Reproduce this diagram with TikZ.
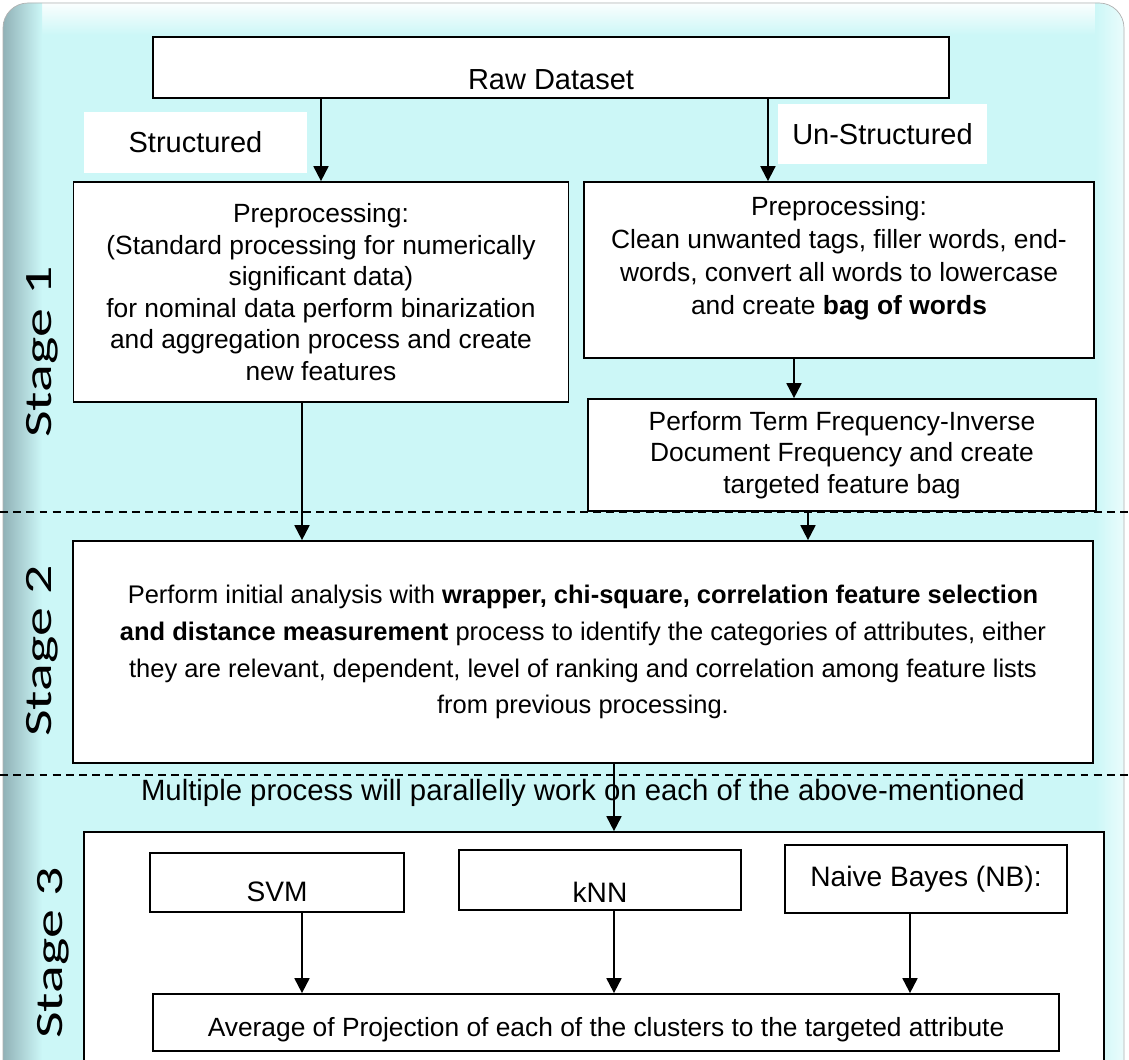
\documentclass[tikz,border=0pt]{standalone}
\usepackage{fontspec}
\setmainfont{Liberation Sans}
\newfontfamily\stagefont{Carlito}
\usetikzlibrary{arrows.meta,positioning}
\definecolor{panelcyan}{RGB}{204,247,247}
\definecolor{edgeshade}{RGB}{140,172,178}

\begin{document}
\begin{tikzpicture}[x=0.02cm,y=-0.02cm]
  \tikzstyle{box} = [draw, line width=1pt, fill=white, align=center, inner sep=0pt]
  \tikzstyle{tag} = [fill=white, inner sep=0pt, font=\fontsize{16.5}{19}\selectfont]
  \tikzstyle{stage} = [rotate=90, inner sep=0pt, font=\stagefont\fontsize{22}{26}\selectfont]
  \tikzstyle{flow} = [->, >={Triangle[length=8.5pt,width=8.5pt]}, line width=1.1pt]
  \tikzstyle{sep} = [dash pattern=on 4.5pt off 3pt, line width=0.6pt]

  \clip (0,0) rectangle (1129,1060);
  \fill[white] (0,0) rectangle (1129,1060);
  % background panel
  \begin{scope}
    \clip[rounded corners=0.5cm] (3,3) rectangle (1124,1090);
    \fill[panelcyan] (0,0) rectangle (1129,1090);
    \shade[top color=white, bottom color=panelcyan] (0,0) rectangle (1129,35);
    \shade[left color=panelcyan, right color=panelcyan!40!white] (1095,0) rectangle (1124,1090);
    \shade[left color=edgeshade, right color=panelcyan] (0,0) rectangle (42,1090);
  \end{scope}
  \draw[gray!60, rounded corners=0.5cm] (3,3) rectangle (1124,1090);

  % stage separators
  \draw[sep] (0,512) -- (1129,512);
  \draw[sep] (0,775) -- (1129,775);

  % stage 1
  \node[box, minimum width=15.92cm, minimum height=1.22cm,
    label={[yshift=-0.25cm, font=\fontsize{16.5}{19}\selectfont]center:Raw Dataset}] (raw) at (551,67.5) {};
  \node[tag, minimum width=4.46cm, minimum height=1.22cm] (struct) at (195.5,142.5) {\raisebox{-0.15cm}{Structured}};
  \node[tag, minimum width=4.18cm, minimum height=1.2cm] (unstruct) at (882.5,134) {\raisebox{-0.16cm}{Un-Structured}};
  \node[box, minimum width=9.9cm, minimum height=4.4cm, font=\fontsize{15}{17.9}\selectfont] (preL) at (321,292)
    {Preprocessing:\\(Standard processing for numerically\\significant data)\\for nominal data perform binarization\\and aggregation process and create\\new features};
  \node[box, minimum width=10.2cm, minimum height=3.52cm, font=\fontsize{15}{18.8}\selectfont,
    label={[yshift=0.24cm, align=center, font=\fontsize{15}{18.8}\selectfont]center:Preprocessing:\\Clean unwanted tags, filler words, end-\\words, convert all words to lowercase\\and create \textbf{bag of words}}] (preR) at (839,270) {};
  \node[box, minimum width=10.16cm, minimum height=2.24cm, font=\fontsize{15}{17.9}\selectfont] (tfidf) at (842,455)
    {Perform Term Frequency-Inverse\\Document Frequency and create\\targeted feature bag};

  % stage 2
  \node[box, minimum width=20.4cm, minimum height=4.44cm, font=\fontsize{14.5}{21}\selectfont] (analysis) at (583,652)
    {Perform initial analysis with \textbf{wrapper, chi-square, correlation feature selection}\\
     \textbf{and distance measurement} process to identify the categories of attributes, either\\
     they are relevant, dependent, level of ranking and correlation among feature lists\\
     from previous processing.};

  % stage 3
  \node[font=\fontsize{16.7}{19}\selectfont, inner sep=0pt] (multi) at (583,793)
    {Multiple process will parallelly work on each of the above-mentioned};
  \node[box, minimum width=20.4cm, minimum height=4.86cm] (parallel) at (594,953.5) {};
  \node[box, minimum width=5.08cm, minimum height=1.18cm,
    label={[yshift=-0.19cm, font=\fontsize{16}{19}\selectfont]center:SVM}] (svm) at (277,882.5) {};
  \node[box, minimum width=5.64cm, minimum height=1.2cm,
    label={[yshift=-0.24cm, font=\fontsize{16}{19}\selectfont]center:kNN}] (knn) at (600,880) {};
  \node[box, minimum width=5.64cm, minimum height=1.36cm, font=\fontsize{16}{19}\selectfont] (nb) at (926,879) {Naive Bayes (NB):};
  \node[box, minimum width=18.12cm, minimum height=1.14cm,
    label={[yshift=-0.15cm, font=\fontsize{15}{18}\selectfont]center:Average of Projection of each of the clusters to the targeted attribute}] (avg) at (606,1022.5) {};

  \node[stage] (st1) at (42,352) {\scalebox{1.5}[1]{Stage 1}};
  \node[stage] (st2) at (42,651) {\scalebox{1.5}[1]{Stage 2}};
  \node[stage] (st3) at (53,953) {\scalebox{1.5}[1]{Stage 3}};

  % connectors
  \path[flow]
  (raw.south -| preL.north) edge (preL.north)
  ([xshift=4.34cm]raw.south) edge ([xshift=4.34cm]raw.south |- preR.north);
  \path[flow]
  ([xshift=-0.9cm]preR.south) edge ([xshift=-0.9cm]preR.south |- tfidf.north)
  ([xshift=-0.38cm]preL.south) edge ([xshift=-0.38cm]preL.south |- analysis.north)
  ([xshift=-0.68cm]tfidf.south) edge ([xshift=-0.68cm]tfidf.south |- analysis.north);
  \path[flow]
  ([xshift=0.62cm]analysis.south) edge ([xshift=0.62cm]analysis.south |- parallel.north);
  \path[flow]
  ([xshift=0.5cm]svm.south) edge ([xshift=0.5cm]svm.south |- avg.north)
  ([xshift=0.28cm]knn.south) edge ([xshift=0.28cm]knn.south |- avg.north)
  ([xshift=-0.32cm]nb.south) edge ([xshift=-0.32cm]nb.south |- avg.north);
\end{tikzpicture}
\end{document}
